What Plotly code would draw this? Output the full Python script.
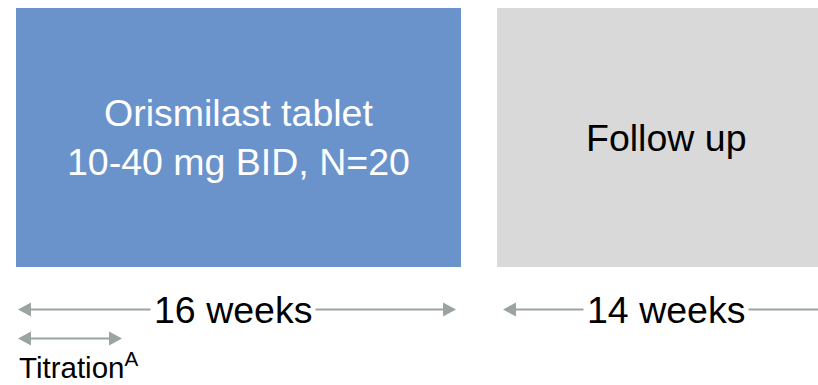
import plotly.graph_objects as go

# ---- data ----
phase_labels = ["Orismilast tablet<br>10-40 mg BID, N=20", "Follow up"]
phase_weeks = [16, 14]
titration_label = "Titration<sup>A</sup>"
titration_weeks = 3.8

# ---- layout constants (pixel space) ----
W, H = 818, 385
FONT = "Liberation Sans, Arial, sans-serif"
box_x = [(16, 461), (497, 836)]
box_y = (8, 267)
box_fill = ["#6A93CB", "#D9D9D9"]
box_text = ["white", "black"]
arrow_x = [(18, 456), (503, 831)]
arrow_y = 309.5
titr_y = 338.5
ARROW_COL = "#9BA4A2"
HEAD_L, HEAD_H = 13, 7
MAIN_SIZE = 37.5

fig = go.Figure()


def add_arrow(x0, x1, y):
    # line
    fig.add_trace(go.Scatter(x=[x0 + HEAD_L - 1, x1 - HEAD_L + 1], y=[y, y], mode="lines",
                             line=dict(color=ARROW_COL, width=2), hoverinfo="skip", showlegend=False))
    # heads
    for tip, d in ((x0, 1), (x1, -1)):
        fig.add_trace(go.Scatter(x=[tip, tip + d * HEAD_L, tip + d * HEAD_L, tip],
                                 y=[y, y - HEAD_H, y + HEAD_H, y], mode="lines", fill="toself",
                                 fillcolor=ARROW_COL, line=dict(width=0, color=ARROW_COL),
                                 hoverinfo="skip", showlegend=False))


for i, lab in enumerate(phase_labels):
    x0, x1 = box_x[i]
    fig.add_shape(type="rect", xref="x", yref="y", x0=x0, x1=x1, y0=box_y[0], y1=box_y[1],
                  fillcolor=box_fill[i], line=dict(width=0), layer="below")
    cx = (x0 + x1) / 2 if i == 0 else 666
    fig.add_annotation(x=cx, y=(box_y[0] + box_y[1]) / 2, xref="x", yref="y", text=lab,
                       showarrow=False, font=dict(family=FONT, size=MAIN_SIZE, color=box_text[i]),
                       xanchor="center", yanchor="middle")

    ax0, ax1 = arrow_x[i]
    add_arrow(ax0, ax1, arrow_y)
    lx = 233 if i == 0 else 666
    fig.add_annotation(x=lx, y=arrow_y, xref="x", yref="y", text=f"{phase_weeks[i]} weeks",
                       showarrow=False, font=dict(family=FONT, size=MAIN_SIZE, color="black"),
                       bgcolor="white", borderpad=3, xanchor="center", yanchor="middle")

# titration arrow
px_per_week = (arrow_x[0][1] - arrow_x[0][0]) / phase_weeks[0]
add_arrow(arrow_x[0][0], arrow_x[0][0] + titration_weeks * px_per_week, titr_y)
fig.add_annotation(x=17, y=365.5, xref="x", yref="y", text=titration_label, showarrow=False,
                   font=dict(family=FONT, size=29.5, color="black"), xanchor="left", yanchor="middle")

fig.update_layout(width=W, height=H, margin=dict(l=0, r=0, t=0, b=0),
                  plot_bgcolor="white", paper_bgcolor="white", showlegend=False,
                  xaxis=dict(range=[0, W], visible=False, fixedrange=True),
                  yaxis=dict(range=[H, 0], visible=False, fixedrange=True))
fig.write_html("out.html")
